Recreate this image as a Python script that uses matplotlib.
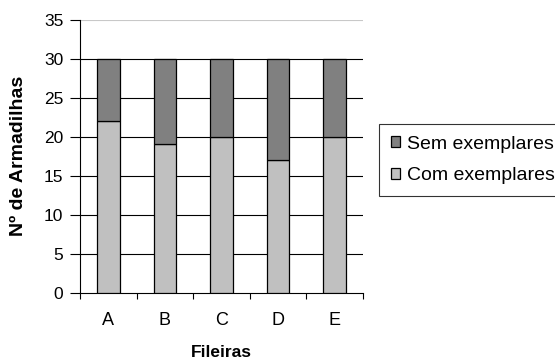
import matplotlib
matplotlib.use("Agg")
import matplotlib.pyplot as plt
import numpy as np

plt.rcParams["font.family"] = ["Liberation Sans", "DejaVu Sans"]

fileiras = ["A", "B", "C", "D", "E"]
com_exemplares = [22, 19, 20, 17, 20]
sem_exemplares = [8, 11, 10, 13, 10]

fig = plt.figure(figsize=(5.55, 3.62), dpi=100)
ax = fig.add_axes([0.144, 0.191, 0.510, 0.755])

x = np.arange(len(fileiras))
ax.bar(x, com_exemplares, width=0.4, color="#c0c0c0", edgecolor="black",
       linewidth=0.9, label="Com exemplares", zorder=3)
ax.bar(x, sem_exemplares, width=0.4, bottom=com_exemplares, color="#808080",
       edgecolor="black", linewidth=0.9, label="Sem exemplares", zorder=3)

ax.set_xlim(-0.5, len(fileiras) - 0.5)
ax.set_ylim(0, 35)
ax.set_yticks(range(0, 36, 5))
for v in range(5, 31, 5):
    ax.axhline(v, color="black", linewidth=0.8, zorder=1)
ax.axhline(35, color="#c8c8c8", linewidth=0.8, zorder=1)

# category labels between boundary ticks
ax.set_xticks(np.arange(-0.5, len(fileiras), 1.0))
ax.set_xticklabels([])
ax.set_xticks(x, minor=True)
ax.set_xticklabels(fileiras, minor=True)
ax.tick_params(axis="x", which="minor", length=0, pad=14, labelsize=13)
ax.tick_params(axis="x", which="major", length=4.5, width=0.8, direction="out")
ax.tick_params(axis="y", length=7, width=0.8, direction="out", labelsize=12.5, pad=5)

for s in ["top", "right"]:
    ax.spines[s].set_visible(False)
for s in ["left", "bottom"]:
    ax.spines[s].set_color("black")
    ax.spines[s].set_linewidth(0.8)

ax.set_xlabel("Fileiras", fontsize=12.5, fontweight="bold")
ax.xaxis.set_label_coords(0.5, -0.19)
ax.set_ylabel("Nº de Armadilhas", fontsize=14, fontweight="bold")
ax.yaxis.set_label_coords(-0.187, 0.5)

handles, labels = ax.get_legend_handles_labels()
leg = fig.legend(handles[::-1], labels[::-1], loc="upper left",
                 bbox_to_anchor=(379 / 555, 1 - 124 / 362), fontsize=14,
                 frameon=True, fancybox=False, borderaxespad=0,
                 handlelength=0.5, handleheight=0.5, handletextpad=0.35,
                 labelspacing=0.75, borderpad=0.6)
leg.get_frame().set_edgecolor("black")
leg.get_frame().set_linewidth(0.8)

fig.savefig("out.png", dpi=100)
